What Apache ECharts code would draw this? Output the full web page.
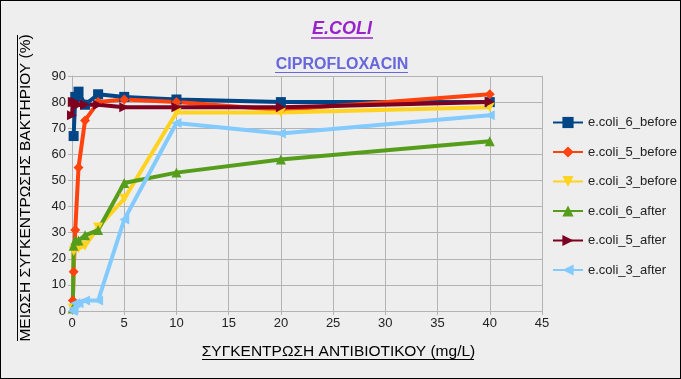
<!DOCTYPE html>
<html><head><meta charset="utf-8">
<script src="https://cdn.jsdelivr.net/npm/echarts@6/dist/echarts.min.js"></script>
<style>html,body{margin:0;padding:0;background:#eeeeee}#c{width:681px;height:379px;box-sizing:border-box;border:1px solid #000}</style>
</head><body><div id="c"></div>
<script>
const concentrations = [0, 0.078, 0.156, 0.3125, 0.625, 1.25, 2.5, 5, 10, 20, 40];
const seriesNames = ["e.coli_6_before","e.coli_5_before","e.coli_3_before","e.coli_6_after","e.coli_5_after","e.coli_3_after"];
const ecoli6Before = [null, null, 67, 82, 84, 79, 83, 82, 81, 80, 80];
const ecoli5Before = [null, 4, 15, 31, 55, 73, 80, 81, 80, 77, 83];
const ecoli3Before = [null, 1, 23, 24, 24, 25, 32, 43, 76, 76, 78];
const ecoli6After  = [null, 1, 25, 27, 27, 29, 31, 49, 53, 58, 65];
const ecoli5After  = [75, 80, 80, 80, 79, 79, 79, 78, 78, 78, 80];
const ecoli3After  = [null, 0, 1, 3, 3, 4, 4, 35, 72, 68, 75];
const xTicks = [0,5,10,15,20,25,30,35,40,45];
const yTicks = [0,10,20,30,40,50,60,70,80,90];
const mainTitle = 'E.COLI';
const subTitle = 'CIPROFLOXACIN';
const xName = 'ΣΥΓΚΕΝΤΡΩΣΗ ΑΝΤΙΒΙΟΤΙΚΟΥ (mg/L)';
const yName = 'ΜΕΙΩΣΗ ΣΥΓΚΕΝΤΡΩΣΗΣ ΒΑΚΤΗΡΙΟΥ (%)';

const values = [ecoli6Before, ecoli5Before, ecoli3Before, ecoli6After, ecoli5After, ecoli3After];
const colors = ["#004586","#ff420e","#ffd320","#579d1c","#7e0021","#83caff"];
const symbols = ["rect","diamond","triangle","triangle","triangle","triangle"];
const rotations = [0,0,180,0,-90,90];

const chart = echarts.init(document.getElementById('c'));
const FONT = "Liberation Sans";
chart.setOption({
  backgroundColor: '#eeeeee',
  animation: false,
  grid: {left: 71, right: 138, top: 75, bottom: 67},
  xAxis: {
    type: 'value', min: xTicks[0], max: xTicks[xTicks.length-1], interval: 5,
    axisLine: {show: true, lineStyle: {color: '#b3b3b3'}},
    axisTick: {show: true, length: 4, lineStyle: {color: '#b3b3b3'}},
    splitLine: {show: true, lineStyle: {color: '#b3b3b3'}},
    axisLabel: {color: '#222', fontFamily: FONT, fontSize: 13, margin: 6}
  },
  yAxis: {
    type: 'value', min: yTicks[0], max: yTicks[yTicks.length-1], interval: 10,
    axisLine: {show: true, lineStyle: {color: '#b3b3b3'}},
    axisTick: {show: true, length: 4, lineStyle: {color: '#b3b3b3'}},
    splitLine: {show: true, lineStyle: {color: '#b3b3b3'}},
    axisLabel: {color: '#222', fontFamily: FONT, fontSize: 13, margin: 6}
  },
  legend: {
    orient: 'vertical', left: 551, top: 115, padding: 0, itemWidth: 30, itemHeight: 14, itemGap: 16.5,
    textStyle: {color: '#222', fontFamily: FONT, fontSize: 13},
    data: seriesNames
  },
  graphic: [
    {type: 'text', x: 341, y: 28, style: {text: mainTitle, fill: '#9922cc', align: 'center', verticalAlign: 'middle', font: 'italic bold 18px "Liberation Sans"'}},
    {type: 'line', shape: {x1: 310, y1: 37, x2: 372, y2: 37}, style: {stroke: '#9922cc', lineWidth: 1.3}},
    {type: 'text', x: 341, y: 64, style: {text: subTitle, fill: '#6666dd', align: 'center', verticalAlign: 'middle', font: 'bold 16px "Liberation Sans"'}},
    {type: 'line', shape: {x1: 274, y1: 71.5, x2: 407, y2: 71.5}, style: {stroke: '#6666dd', lineWidth: 1}},
    {type: 'text', x: 337.5, y: 351, style: {text: xName, fill: '#000', align: 'center', verticalAlign: 'middle', font: '15.5px "Liberation Sans"'}},
    {type: 'line', shape: {x1: 201, y1: 358.5, x2: 473, y2: 358.5}, style: {stroke: '#000', lineWidth: 1}},
    {type: 'text', x: 25, y: 187, rotation: Math.PI / 2, style: {text: yName, fill: '#000', align: 'center', verticalAlign: 'middle', font: '15.5px "Liberation Sans"'}},
    {type: 'line', shape: {x1: 16.5, y1: 34, x2: 16.5, y2: 340}, style: {stroke: '#000', lineWidth: 1}}
  ],
  series: values.map((vals, i) => ({
    name: seriesNames[i], type: 'line',
    data: concentrations.map((x, j) => [x, vals[j]]).filter(p => p[1] !== null),
    color: colors[i], symbol: symbols[i], symbolRotate: rotations[i],
    symbolSize: 10, showAllSymbol: true,
    lineStyle: {width: 4, color: colors[i]},
    itemStyle: {color: colors[i]},
    clip: true
  }))
});
</script></body></html>
